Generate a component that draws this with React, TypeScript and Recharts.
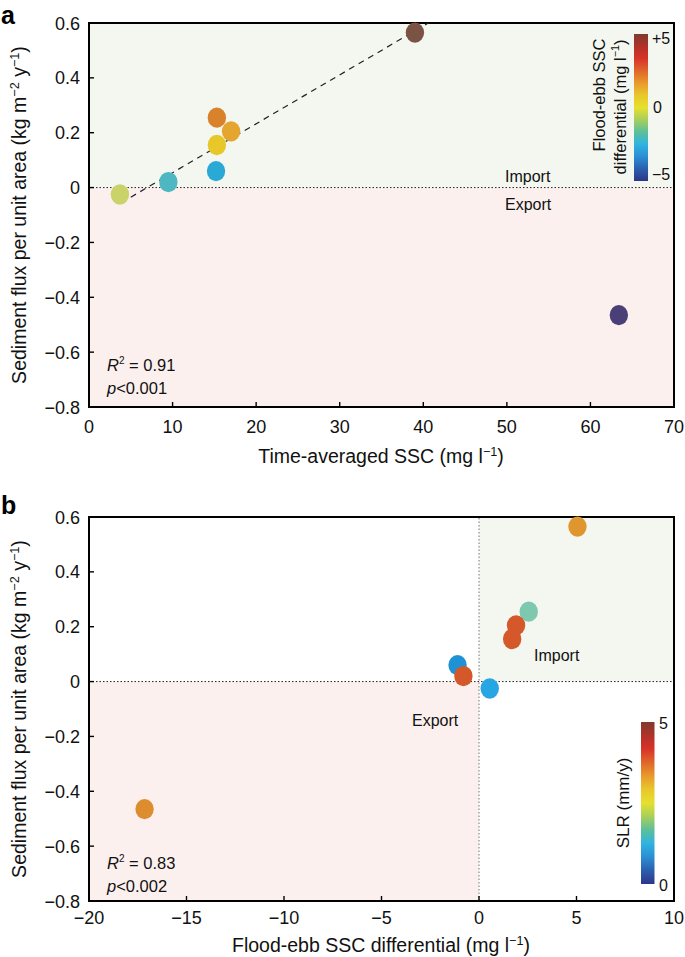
import React from "react";
import {
  ReferenceArea,
  ReferenceLine,
  Scatter,
  ScatterChart,
  XAxis,
  YAxis,
} from "recharts";

// one entry per site, same order in every array
const fluxValues = [0.565, 0.255, 0.205, 0.155, 0.06, 0.02, -0.025, -0.465];
const meanSsc = [39.0, 15.3, 17.0, 15.3, 15.2, 9.5, 3.7, 63.4];
const sscDifferential = [5.05, 2.55, 1.9, 1.7, -1.1, -0.8, 0.55, -17.15];
const differentialColors = [
  "#7b5344", "#d9822b", "#e5a630", "#e8c829",
  "#2aa9d6", "#4db8c2", "#c9d36a", "#4b3f78",
];
const slrColors = [
  "#e0962e", "#7ec8b0", "#d4582a", "#d4582a",
  "#1f92d6", "#d4582a", "#27a6e4", "#de8d2e",
];

const fitStart = { x: 5.0, y: -0.035 };
const fitEnd = { x: 40.6, y: 0.6 };

const sscTicks = [0, 10, 20, 30, 40, 50, 60, 70];
const differentialTicks = [-20, -15, -10, -5, 0, 5, 10];
const fluxTicks = [-0.8, -0.6, -0.4, -0.2, 0, 0.2, 0.4, 0.6];

const colorbarStops = [
  "#7f3b2f", "#b03228", "#d8332a", "#e0662a", "#e89a2b", "#e8c72a",
  "#e6e02e", "#a8cf5c", "#5cbf9a", "#2fb3e0", "#2a8fd4", "#2b5fae", "#2e3588",
];

const FONT = "'Liberation Sans', Arial, sans-serif";
const GREEN_BG = "#f3f7ef";
const PINK_BG = "#fcf0ef";

const panelA = meanSsc.map((x, i) => ({ x, y: fluxValues[i], c: differentialColors[i] }));
const panelB = sscDifferential.map((x, i) => ({ x, y: fluxValues[i], c: slrColors[i] }));

const minus = (v: number, s: string) => (v < 0 ? "\u2212" + s : s);
const fmtFlux = (v: number) => (v === 0 ? "0" : minus(v, Math.abs(v).toFixed(1)));
const fmtInt = (v: number) => minus(v, String(Math.abs(v)));

function makeXTick(fmt: (v: number) => string, dy: number) {
  return (props: any) => {
    const { x, y, payload } = props;
    return (
      <g>
        <line x1={x} x2={x} y1={y} y2={y - 5} stroke="#000" strokeWidth={1.4} />
        <text x={x} y={y + dy} textAnchor="middle" fontSize={18} fontFamily={FONT} fill="#111">
          {fmt(payload.value)}
        </text>
      </g>
    );
  };
}

function YTick(props: any) {
  const { x, y, payload } = props;
  return (
    <g>
      <line x1={x} x2={x + 5} y1={y} y2={y} stroke="#000" strokeWidth={1.4} />
      <text x={x - 9} y={y + 6.5} textAnchor="end" fontSize={18} fontFamily={FONT} fill="#111">
        {fmtFlux(payload.value)}
      </text>
    </g>
  );
}

function Dot(props: any) {
  const { cx, cy, payload } = props;
  if (cx == null || cy == null) return null;
  return <ellipse cx={cx} cy={cy} rx={9.2} ry={10.2} fill={payload.c} />;
}

function Sup({ children }: { children: React.ReactNode }) {
  return (
    <tspan fontSize="0.65em" dy={-7}>
      {children}
    </tspan>
  );
}

function YTitle({ cx, cy }: { cx: number; cy: number }) {
  return (
    <text
      transform={`translate(${cx},${cy}) rotate(-90)`}
      textAnchor="middle"
      fontSize={19.5}
      fontFamily={FONT}
      fill="#111"
    >
      Sediment flux per unit area (kg m<Sup>{"\u22122"}</Sup>
      <tspan dy={7}> y</tspan>
      <Sup>{"\u22121"}</Sup>
      <tspan dy={7}>)</tspan>
    </text>
  );
}

function Stats({ x, y, r2, p }: { x: number; y: number; r2: string; p: string }) {
  return (
    <g fontFamily={FONT} fontSize={16.5} fill="#111">
      <text x={x} y={y}>
        <tspan fontStyle="italic">R</tspan>
        <tspan fontSize={10} dy={-7}>2</tspan>
        <tspan dy={7}> = {r2}</tspan>
      </text>
      <text x={x} y={y + 23}>
        <tspan fontStyle="italic">p</tspan>&lt;{p}
      </text>
    </g>
  );
}

function Colorbar({ id, x, y, w, h }: { id: string; x: number; y: number; w: number; h: number }) {
  return (
    <g>
      <defs>
        <linearGradient id={id} x1="0" y1="0" x2="0" y2="1">
          {colorbarStops.map((c, i) => (
            <stop key={i} offset={i / (colorbarStops.length - 1)} stopColor={c} />
          ))}
        </linearGradient>
      </defs>
      <rect x={x} y={y} width={w} height={h} fill={`url(#${id})`} />
    </g>
  );
}

const overlay: React.CSSProperties = {
  position: "absolute",
  left: 0,
  top: 0,
  pointerEvents: "none",
};

function PanelA() {
  return (
    <div style={{ position: "absolute", left: 0, top: 0, width: 685, height: 480 }}>
      <ScatterChart width={685} height={480} margin={{ top: 23, right: 11, bottom: 0, left: 0 }}>
        <ReferenceArea y1={0} y2={0.6} fill={GREEN_BG} fillOpacity={1} stroke="none" />
        <ReferenceArea y1={-0.8} y2={0} fill={PINK_BG} fillOpacity={1} stroke="none" />
        <XAxis
          type="number"
          dataKey="x"
          domain={[0, 70]}
          ticks={sscTicks}
          height={73}
          tickSize={0}
          tickMargin={0}
          tickLine={false}
          tick={makeXTick(fmtInt, 26)}
          axisLine={{ stroke: "#000", strokeWidth: 2 }}
        />
        <YAxis
          type="number"
          dataKey="y"
          domain={[-0.8, 0.6]}
          ticks={fluxTicks}
          width={89}
          tickSize={0}
          tickMargin={0}
          tickLine={false}
          tick={YTick}
          axisLine={{ stroke: "#000", strokeWidth: 2 }}
        />
        <ReferenceLine y={0} stroke="#222" strokeDasharray="1.5 2" strokeWidth={1} />
        <ReferenceLine segment={[fitStart, fitEnd]} stroke="#222" strokeDasharray="6 5" strokeWidth={1.2} />
        <Scatter data={panelA} shape={Dot} isAnimationActive={false} />
        <ReferenceArea x1={0} x2={70} y1={-0.8} y2={0.6} fill="none" stroke="#000" strokeWidth={2} />
      </ScatterChart>
      <svg width={685} height={480} style={overlay}>
        <text x={1} y={24} fontSize={25} fontWeight="bold" fontFamily={FONT}>a</text>
        <YTitle cx={26} cy={215} />
        <text x={381} y={463} textAnchor="middle" fontSize={19.5} fontFamily={FONT} fill="#111">
          Time-averaged SSC (mg l<Sup>{"\u22121"}</Sup>
          <tspan dy={7}>)</tspan>
        </text>
        <g fontFamily={FONT} fontSize={16} fill="#111">
          <text x={505} y={182}>Import</text>
          <text x={505} y={210}>Export</text>
        </g>
        <Stats x={107} y={371} r2="0.91" p="0.001" />
        <Colorbar id="cbA" x={634} y={34} w={14} h={147} />
        <g fontFamily={FONT} fontSize={16} fill="#111">
          <text x={652} y={44}>+5</text>
          <text x={653} y={113}>0</text>
          <text x={652} y={180}>{"\u22125"}</text>
        </g>
        <g fontFamily={FONT} fontSize={16.5} fill="#111" textAnchor="middle">
          <text transform="translate(605,95) rotate(-90)">Flood-ebb SSC</text>
          <text transform="translate(626,107) rotate(-90)">
            differential (mg l<Sup>{"\u22121"}</Sup>
            <tspan dy={7}>)</tspan>
          </text>
        </g>
      </svg>
    </div>
  );
}

function PanelB() {
  return (
    <div style={{ position: "absolute", left: 0, top: 480, width: 685, height: 477 }}>
      <ScatterChart width={685} height={477} margin={{ top: 37, right: 11, bottom: 0, left: 0 }}>
        <ReferenceArea x1={0} x2={10} y1={0} y2={0.6} fill={GREEN_BG} fillOpacity={1} stroke="none" />
        <ReferenceArea x1={-20} x2={0} y1={-0.8} y2={0} fill={PINK_BG} fillOpacity={1} stroke="none" />
        <XAxis
          type="number"
          dataKey="x"
          domain={[-20, 10]}
          ticks={differentialTicks}
          height={56}
          tickSize={0}
          tickMargin={0}
          tickLine={false}
          tick={makeXTick(fmtInt, 23)}
          axisLine={{ stroke: "#000", strokeWidth: 2 }}
        />
        <YAxis
          type="number"
          dataKey="y"
          domain={[-0.8, 0.6]}
          ticks={fluxTicks}
          width={89}
          tickSize={0}
          tickMargin={0}
          tickLine={false}
          tick={YTick}
          axisLine={{ stroke: "#000", strokeWidth: 2 }}
        />
        <ReferenceLine y={0} stroke="#222" strokeDasharray="1.5 2" strokeWidth={1} />
        <ReferenceLine x={0} stroke="#777" strokeDasharray="1.5 2" strokeWidth={1} />
        <Scatter data={panelB} shape={Dot} isAnimationActive={false} />
        <ReferenceArea x1={-20} x2={10} y1={-0.8} y2={0.6} fill="none" stroke="#000" strokeWidth={2} />
      </ScatterChart>
      <svg width={685} height={477} style={overlay}>
        <text x={1} y={34} fontSize={25} fontWeight="bold" fontFamily={FONT}>b</text>
        <YTitle cx={26} cy={229} />
        <text x={381} y={472} textAnchor="middle" fontSize={19.5} fontFamily={FONT} fill="#111">
          Flood-ebb SSC differential (mg l<Sup>{"\u22121"}</Sup>
          <tspan dy={7}>)</tspan>
        </text>
        <g fontFamily={FONT} fontSize={16} fill="#111">
          <text x={534} y={181}>Import</text>
          <text x={412} y={246}>Export</text>
        </g>
        <Stats x={107} y={389} r2="0.83" p="0.002" />
        <Colorbar id="cbB" x={641} y={242} w={13.5} h={162} />
        <g fontFamily={FONT} fontSize={16} fill="#111">
          <text x={659} y={249}>5</text>
          <text x={659} y={411}>0</text>
        </g>
        <text
          transform="translate(629,323) rotate(-90)"
          textAnchor="middle"
          fontSize={17}
          fontFamily={FONT}
          fill="#111"
        >
          SLR (mm/y)
        </text>
      </svg>
    </div>
  );
}

export default function App() {
  return (
    <div style={{ position: "absolute", left: 0, top: 0, width: 685, height: 957, background: "#fff" }}>
      <PanelA />
      <PanelB />
    </div>
  );
}
